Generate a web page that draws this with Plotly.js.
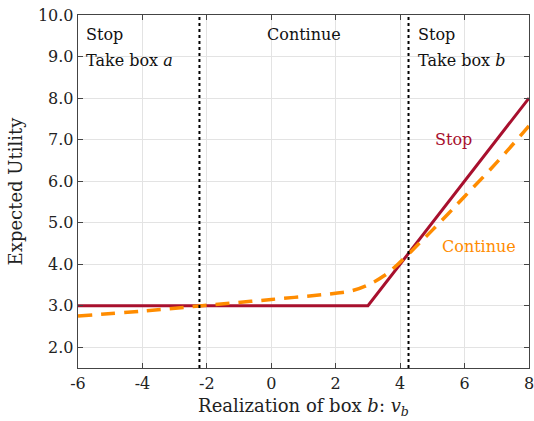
<!DOCTYPE html>
<html><head><meta charset="utf-8">
<script src="https://cdn.plot.ly/plotly-3.0.1.min.js"></script>
<style>body{margin:0;background:#fff}#c{width:534px;height:421px}</style>
</head><body><div id="c"></div>
<script>
const stopX = [-6, 3, 8];
const stopY = [3, 3, 8];
const contX = [-6, -4, -2, 0, 2, 2.5, 3, 3.5, 4, 4.5, 5, 5.5, 6, 7, 8];
const contY = [2.75, 2.87, 3.01, 3.15, 3.3, 3.36, 3.5, 3.72, 4.05, 4.43, 4.82, 5.22, 5.63, 6.45, 7.33];
const thresholds = [-2.23, 4.26];
const xTicks = [-6, -4, -2, 0, 2, 4, 6, 8];
const yTicks = [2, 3, 4, 5, 6, 7, 8, 9, 10];
const FONT = "DejaVu Serif";
const red = '#A8102E', orange = '#FF8C00';

const traces = [
  {x: stopX, y: stopY, mode: 'lines', line: {color: red, width: 3}, hoverinfo: 'skip'},
  {x: contX, y: contY, mode: 'lines', line: {color: orange, width: 3.5, dash: '14px,9px', shape: 'spline'}, hoverinfo: 'skip'}
];
const shapes = thresholds.map(t => ({type: 'line', xref: 'x', yref: 'paper', x0: t, x1: t, y0: 0, y1: 1,
  line: {color: '#000', width: 2, dash: 'dot'}}));
const ann = (x, y, text, opts) => Object.assign({x, y, xref: 'x', yref: 'y', text, showarrow: false,
  font: {family: FONT, size: 16, color: '#111'}}, opts || {});
const annotations = [
  ann(-5.8, 9.52, 'Stop', {xanchor: 'left'}),
  ann(-5.8, 8.9, 'Take box <i>a</i>', {xanchor: 'left'}),
  ann(1.0, 9.52, 'Continue', {xanchor: 'center'}),
  ann(4.5, 9.52, 'Stop', {xanchor: 'left'}),
  ann(4.5, 8.9, 'Take box <i>b</i>', {xanchor: 'left'}),
  ann(5.65, 7.0, 'Stop', {xanchor: 'center', font: {family: FONT, size: 16, color: red}}),
  ann(6.45, 4.43, 'Continue', {xanchor: 'center', font: {family: FONT, size: 16, color: orange}})
];
const axisCommon = {showline: true, linecolor: '#444', linewidth: 1.3, mirror: 'ticks', ticks: 'inside', ticklen: 5,
  tickcolor: '#444', showgrid: true, gridcolor: '#e3e3e3', gridwidth: 1, zeroline: false,
  ticklabeloverflow: 'allow', tickfont: {family: FONT, size: 16, color: '#222'}};
const layout = {
  width: 534, height: 421, showlegend: false,
  font: {family: FONT},
  margin: {l: 78, r: 5, t: 15, b: 53},
  paper_bgcolor: '#fff', plot_bgcolor: '#fff',
  xaxis: Object.assign({}, axisCommon, {range: [-6, 8], tickvals: xTicks, ticktext: xTicks.map(String),
    title: {text: 'Realization of box <i>b</i>: <i>v</i><sub><i>b</i></sub>', font: {family: FONT, size: 18, color: '#222'}, standoff: 8}}),
  yaxis: Object.assign({}, axisCommon, {range: [1.5, 10], tickvals: yTicks, ticktext: yTicks.map(v => v.toFixed(1)),
    title: {text: 'Expected Utility', font: {family: FONT, size: 18, color: '#222'}, standoff: 10}}),
  shapes, annotations
};
Plotly.newPlot('c', traces, layout, {staticPlot: true});
</script></body></html>
